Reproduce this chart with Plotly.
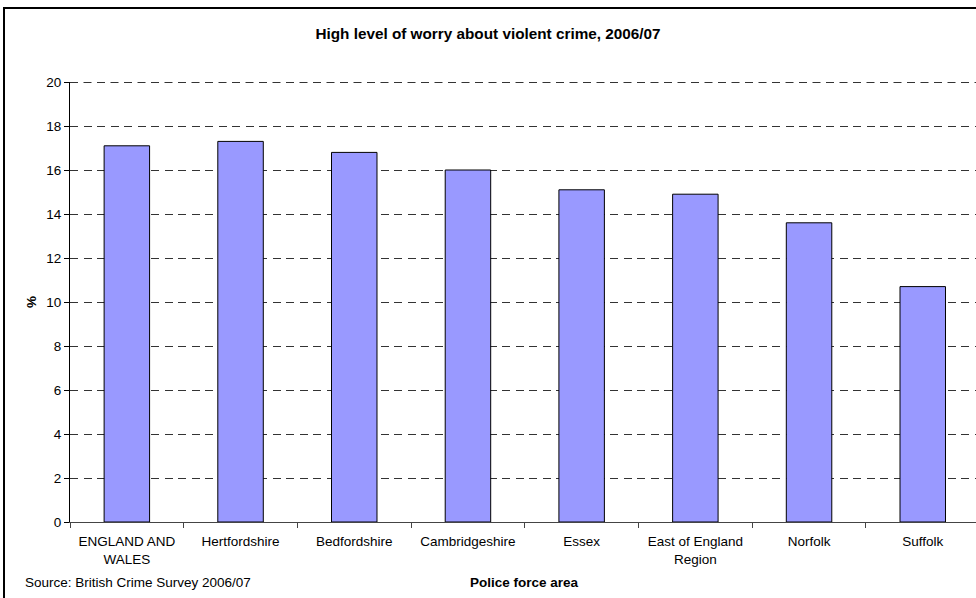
import plotly.graph_objects as go

# Police force areas and the share of people with a high level of worry
areas = ["ENGLAND AND<br>WALES", "Hertfordshire", "Bedfordshire", "Cambridgeshire",
         "Essex", "East of England<br>Region", "Norfolk", "Suffolk"]
worry_pct = [17.1, 17.3, 16.8, 16.0, 15.1, 14.9, 13.6, 10.7]
y_ticks = list(range(0, 21, 2))

W, H = 976, 598
Y_MAX = 20
unit_px = 22.0          # pixels per percentage point
L, R, B = 70, 0, 76
T = H - B - Y_MAX * unit_px
plot_w = W - L - R
plot_h = H - T - B
cat_px = 113.7  # width of one category slot in pixels
GRID_DASH = "8px,5.5px"
GRID_COLOR = "#333333"


def px_x(px):
    return (px - L) / plot_w


def px_y(py):
    return (H - B - py) / plot_h


font = "Liberation Sans, Arial, sans-serif"
fs = 13.5

fig = go.Figure(go.Bar(
    x=areas,
    y=worry_pct,
    width=0.4,
    marker=dict(color="#9999FF", line=dict(color="#000000", width=1)),
))

fig.update_layout(
    width=W, height=H,
    margin=dict(l=L, r=R, t=T, b=B, pad=0),
    paper_bgcolor="white",
    plot_bgcolor="white",
    showlegend=False,
    font=dict(family=font, size=fs, color="#000000"),
    title=dict(
        text="<b>High level of worry about violent crime, 2006/07</b>",
        x=0.5, xref="container", xanchor="center",
        y=1 - 34 / H, yref="container", yanchor="middle",
        font=dict(family=font, size=15.3, color="#000000"),
    ),
)

fig.update_xaxes(
    type="category",
    range=[-0.5, -0.5 + plot_w / cat_px],
    showline=True, linecolor="#444444", linewidth=1,
    ticks="outside", tickson="boundaries", ticklen=5, tickcolor="#444444",
    ticklabelstandoff=7,
    showgrid=False, zeroline=False,
    tickfont=dict(family=font, size=fs, color="#000000"),
)

fig.update_yaxes(
    range=[0, Y_MAX],
    tickvals=y_ticks,
    showline=True, linecolor="#000000", linewidth=1,
    ticks="outside", ticklen=5, tickcolor="#000000",
    showgrid=True, gridcolor=GRID_COLOR, gridwidth=1, griddash=GRID_DASH,
    zeroline=False,
    tickfont=dict(family=font, size=fs, color="#000000"),
)

# Top gridline sits on the edge of the axis range, so draw it explicitly,
# nudged half a pixel so it renders as a crisp single-pixel line
half_px = 0.5 / unit_px
fig.add_shape(
    type="line", xref="paper", yref="y",
    x0=0, x1=1, y0=y_ticks[-1] - half_px, y1=y_ticks[-1] - half_px,
    line=dict(color=GRID_COLOR, width=1, dash=GRID_DASH),
    layer="below",
)

annotations = [
    dict(text="<b>%</b>", textangle=-90, x=px_x(31), y=px_y(302),
         xref="paper", yref="paper", showarrow=False,
         xanchor="center", yanchor="middle", font=dict(size=fs)),
    dict(text="Source: British Crime Survey 2006/07", x=px_x(23), y=px_y(582),
         xref="paper", yref="paper", showarrow=False,
         xanchor="left", yanchor="middle", font=dict(size=fs)),
    dict(text="<b>Police force area</b>", x=px_x(524), y=px_y(582),
         xref="paper", yref="paper", showarrow=False,
         xanchor="center", yanchor="middle", font=dict(size=fs)),
]
fig.update_layout(annotations=annotations)

# Outer chart frame
fig.add_shape(
    type="rect", xref="paper", yref="paper",
    x0=px_x(4), x1=px_x(W + 10), y0=px_y(H + 10), y1=px_y(8),
    line=dict(color="#000000", width=2), fillcolor="rgba(0,0,0,0)",
    layer="above",
)

fig.write_html("out.html")
